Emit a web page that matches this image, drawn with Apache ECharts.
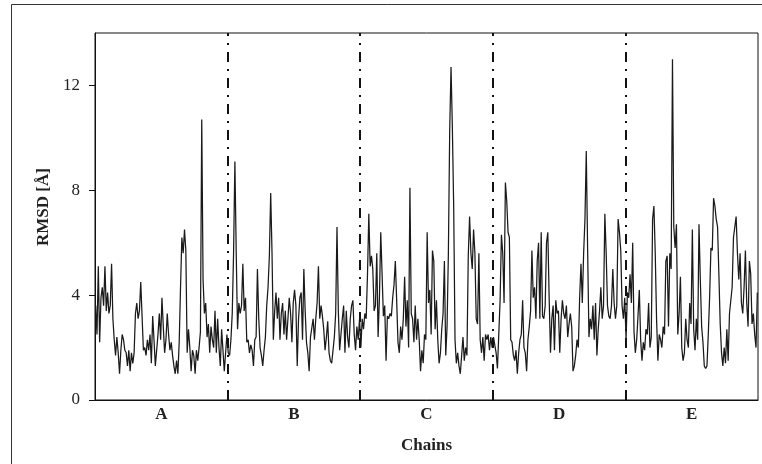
<!DOCTYPE html>
<html>
<head>
<meta charset="utf-8">
<script src="https://cdn.jsdelivr.net/npm/echarts/dist/echarts.min.js"></script>
<style>
  html, body { margin: 0; padding: 0; background: #fff; }
  #chart { width: 762px; height: 464px; }
</style>
</head>
<body>
<div id="chart"></div>
<script>
// ---- data ----
const chainNames = ['A', 'B', 'C', 'D', 'E'];
const yTicks = [0, 4, 8, 12];

const chainA = [
  3.6,2.5,5.1,2.2,3.9,4.3,3.6,5.1,3.4,4.1,
  3.3,3.6,5.2,3.1,2.3,1.7,2.4,1.8,1.0,1.9,
  2.5,2.3,1.9,1.8,1.3,1.9,1.1,1.8,1.4,1.8,
  3.3,3.7,3.1,3.4,4.5,3.2,1.9,2.0,1.7,2.3,
  1.9,2.5,1.4,3.2,2.3,1.3,1.9,2.5,3.3,2.3,
  3.9,2.8,1.8,2.3,3.3,2.5,1.9,2.2,1.7,1.3,
  1.0,1.5,1.0,2.2,4.3,6.2,5.6,6.5,5.7,1.8,
  2.7,2.0,1.1,1.9,1.7,1.0,1.9,1.5,2.0,2.6,
  10.7,4.6,3.3,3.7,2.4,2.9,1.8,2.8,2.3,2.0,
  3.4,1.8,3.1,2.0,1.3,2.7,1.9,1.1,1.8,2.5
];
const chainB = [
  1.8,1.7,2.3,3.3,5.6,9.1,5.6,2.7,3.7,3.3,
  3.6,5.2,3.4,3.9,2.2,2.3,1.8,2.1,1.9,1.3,
  2.3,2.4,5.0,3.1,2.0,1.7,1.3,1.9,2.4,3.6,
  4.3,5.5,7.9,5.6,2.3,3.4,4.1,3.1,3.9,2.3,
  3.3,3.7,2.5,3.4,2.3,3.1,3.9,3.3,2.2,3.7,
  4.2,3.6,1.3,3.1,3.9,4.1,2.3,5.0,3.4,2.2,
  1.8,1.1,2.4,2.4,3.1,2.3,3.1,3.7,5.1,3.1,
  3.6,3.2,2.7,1.9,2.4,3.0,1.8,1.5,1.4,1.9,
  2.4,3.3,6.6,3.4,1.9,2.5,3.1,3.6,1.8,3.4,
  2.4,2.0,3.1,3.6,3.8,2.5,1.9,2.8,2.3,3.1
];
const chainC = [
  2.0,3.1,2.7,3.3,3.1,4.8,7.1,5.1,5.5,5.0,
  3.4,3.6,5.6,2.4,3.9,6.4,4.8,3.2,3.6,1.5,
  3.2,3.1,3.3,3.2,3.9,4.4,5.3,3.8,2.2,1.8,
  2.8,2.3,3.1,4.7,2.8,3.8,2.0,8.1,3.3,3.1,
  2.2,3.6,2.3,3.1,2.3,1.1,1.9,1.4,2.5,2.3,
  6.4,3.7,4.2,2.5,5.7,5.3,2.7,3.8,2.3,1.4,
  1.8,2.7,3.3,5.3,1.7,2.8,5.6,10.3,12.7,10.4,
  7.4,2.3,1.4,1.8,1.3,1.0,1.0,2.4,1.5,2.0,
  1.7,5.5,7.0,5.6,5.0,6.5,5.6,3.1,2.9,5.6,
  2.3,1.8,2.4,1.5,2.5,2.3,2.5,1.9,2.4,2.0
];
const chainD = [
  2.4,2.4,1.8,1.2,2.5,3.8,6.3,5.6,3.7,8.3,
  7.6,6.4,6.2,2.3,2.2,1.7,1.5,1.9,1.0,1.8,
  2.3,2.5,3.8,2.0,1.8,1.1,2.3,2.8,3.4,5.7,
  3.9,4.3,3.1,5.3,6.0,3.1,6.4,3.2,3.1,3.6,
  6.0,6.4,3.9,1.8,3.1,3.6,1.9,3.8,3.3,3.4,
  1.8,3.1,3.8,3.3,3.1,3.6,2.4,2.9,3.3,2.8,
  1.1,1.3,1.7,2.3,2.0,3.9,5.2,3.7,5.6,6.9,
  9.5,5.8,2.4,3.1,2.7,3.6,2.3,3.7,1.7,2.7,
  3.4,4.3,3.1,3.6,7.1,5.6,3.6,3.2,3.1,3.6,
  5.0,3.7,3.1,3.6,6.9,6.4,5.7,3.6,3.1,3.9
];
const chainE = [
  2.3,4.1,3.9,4.8,3.7,6.0,2.6,1.8,2.3,3.2,
  4.2,2.3,1.5,2.2,1.9,2.7,2.5,3.7,2.0,2.4,
  6.9,7.4,5.6,3.1,1.5,2.5,2.3,2.0,2.8,2.5,
  5.3,5.5,2.8,5.6,5.0,13.0,6.6,5.8,6.7,2.5,
  3.3,4.7,2.0,1.5,1.8,3.1,2.3,2.0,3.7,2.9,
  6.5,2.7,1.9,3.1,2.3,6.7,4.6,2.8,2.2,1.3,
  1.2,1.3,2.5,3.9,5.8,5.7,7.7,7.4,6.9,6.6,
  4.8,2.9,1.8,1.3,2.0,1.4,2.7,1.5,3.3,3.3,
  4.3,6.2,6.2,7.0,5.6,4.6,5.6,3.7,3.3,4.3,
  5.7,3.7,2.8,5.3,4.8,2.9,3.3,2.5,2.0,4.1
];

// ---- build ----
const chains = [chainA, chainB, chainC, chainD, chainE];
const perChain = chainA.length;
const total = perChain * chains.length;
const values = [].concat(...chains);
const lineData = values.map((v, i) => [i + 0.5, v]);
const boundaries = [1, 2, 3, 4].map(k => k * perChain);
const labelCenters = chainNames.map((_, k) => (k + 0.5) * perChain);

const serif = '"Liberation Serif", "Times New Roman", Times, serif';
const chart = echarts.init(document.getElementById('chart'), null, { renderer: 'canvas' });

chart.setOption({
  animation: false,
  backgroundColor: '#ffffff',
  graphic: [{
    type: 'rect',
    shape: { x: 11.5, y: 4.5, width: 800, height: 500 },
    style: { fill: 'none', stroke: '#333', lineWidth: 1 },
    silent: true,
    z: 0
  }],
  grid: {
    left: 95, right: 4, top: 33, bottom: 64,
    show: true, borderColor: '#111', borderWidth: 1,
    backgroundColor: 'transparent'
  },
  xAxis: {
    type: 'value',
    min: 0, max: total,
    name: 'Chains',
    nameLocation: 'middle',
    nameGap: 37,
    nameTextStyle: { fontFamily: serif, fontWeight: 'bold', fontSize: 17, color: '#222' },
    axisLine: { show: true, lineStyle: { color: '#111', width: 1 } },
    axisTick: { show: false },
    splitLine: { show: false },
    axisLabel: {
      customValues: labelCenters,
      margin: 6,
      fontFamily: serif, fontWeight: 'bold', fontSize: 17, color: '#222',
      formatter: v => chainNames[labelCenters.indexOf(v)] || ''
    }
  },
  yAxis: {
    type: 'value',
    min: 0, max: 14,
    name: 'RMSD [Å]',
    nameLocation: 'middle',
    nameGap: 39,
    nameTextStyle: { fontFamily: serif, fontWeight: 'bold', fontSize: 17, color: '#222', padding: [0, 0, 0, 19] },
    axisLine: { show: true, lineStyle: { color: '#111', width: 1 } },
    axisTick: { show: true, customValues: yTicks, length: 6, inside: false, lineStyle: { color: '#111' } },
    splitLine: { show: false },
    axisLabel: {
      customValues: yTicks,
      margin: 15,
      fontFamily: serif, fontSize: 17, color: '#222'
    }
  },
  series: [{
    type: 'line',
    data: lineData,
    showSymbol: false,
    symbol: 'none',
    lineStyle: { color: '#1a1a1a', width: 1.25 },
    z: 2,
    markLine: {
      silent: true,
      symbol: ['none', 'none'],
      label: { show: false },
      lineStyle: { color: '#111', width: 2, type: [10, 7, 2, 7] },
      data: boundaries.map(b => ({ xAxis: b }))
    }
  }]
});
</script>
</body>
</html>
